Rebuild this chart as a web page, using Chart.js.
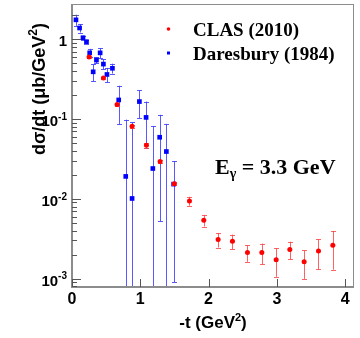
<!DOCTYPE html>
<html>
<head>
<meta charset="utf-8">
<script src="https://cdn.jsdelivr.net/npm/chart.js@4.4.1/dist/chart.umd.min.js"></script>
<style>
  html, body { margin: 0; padding: 0; background: #fff; }
  canvas { display: block; }
</style>
</head>
<body>
<canvas id="xsChart" width="360" height="338"></canvas>
<script>
// ====== Data ======
// CLAS (2010)
const CLAS_T    = [0.25, 0.46, 0.66, 0.88, 1.09, 1.29, 1.50, 1.72, 1.93, 2.14, 2.35, 2.57, 2.78, 2.99, 3.19, 3.40, 3.61, 3.82];
const CLAS_DSDT = [0.60, 0.327, 0.152, 0.0813, 0.047, 0.0294, 0.0155, 0.0094, 0.00539, 0.00309, 0.00294, 0.00212, 0.00212, 0.00172, 0.00232, 0.00162, 0.00221, 0.00262];
const CLAS_ERR  = [0.02, 0.012, 0.006, 0.004, 0.003, 0.0015, 0.0006, 0.0012, 0.0009, 0.00064, 0.00062, 0.0005, 0.00062, 0.00067, 0.00058, 0.00063, 0.00091, 0.00133];

// Daresbury (1984)
const DARES_T    = [0.058, 0.111, 0.161, 0.212, 0.259, 0.31, 0.358, 0.412, 0.46, 0.512, 0.592, 0.684, 0.787, 0.88, 0.987, 1.085, 1.184, 1.284, 1.382, 1.488];
const DARES_DSDT = [1.76, 1.39, 1.05, 0.936, 0.678, 0.392, 0.55, 0.678, 0.49, 0.363, 0.434, 0.174, 0.0191, 0.0101, 0.166, 0.105, 0.024, 0.0592, 0.0392, 0.0153];
const DARES_ERR  = [0.28, 0.17, 0.06, 0.05, 0.083, 0.094, 0.05, 0.097, 0.07, 0.075, 0.062, 0.088, 0.0795, 0.081, 0.064, 0.061, 0.057, 0.054, 0.048, 0.0144];

// Axis ticks
const X_TICKS = [0, 1, 2, 3, 4];
const Y_TICK_VALUES = [0.001, 0.01, 0.1, 1];
const Y_TICK_BASE = ["10", "10", "10", "1"];
const Y_TICK_EXP  = ["-3", "-2", "-1", ""];

const SANS = "'Liberation Sans', Arimo, Helvetica, Arial, sans-serif";
const SERIF = "'Liberation Serif', Tinos, 'Times New Roman', serif";

const toPoints = (xs, ys) => xs.map((t, i) => ({ x: t, y: ys[i] }));

// ====== Error bars ======
function drawErrors(chart, xs, ys, errs, color) {
  const { ctx, chartArea: a, scales: { x, y } } = chart;
  ctx.save();
  ctx.beginPath();
  ctx.rect(a.left, a.top, a.right - a.left, a.bottom - a.top);
  ctx.clip();
  ctx.strokeStyle = color;
  ctx.lineWidth = 1;
  xs.forEach((t, i) => {
    const px = Math.round(x.getPixelForValue(t)) + 0.5;
    const hi = ys[i] + errs[i];
    const lo = ys[i] - errs[i];
    const pHi = y.getPixelForValue(hi);
    const loIn = lo > y.min;
    const pLo = loIn ? y.getPixelForValue(lo) : a.bottom + 2;
    ctx.beginPath();
    ctx.moveTo(px, pHi);
    ctx.lineTo(px, pLo);
    ctx.moveTo(px - 2.5, Math.round(pHi) + 0.5);
    ctx.lineTo(px + 2.5, Math.round(pHi) + 0.5);
    if (loIn) {
      ctx.moveTo(px - 2.5, Math.round(pLo) + 0.5);
      ctx.lineTo(px + 2.5, Math.round(pLo) + 0.5);
    }
    ctx.stroke();
  });
  ctx.restore();
}

// draws pieces like [["10", false], ["-1", true]] starting at x
function drawRich(ctx, parts, x, base, size, supSize, family, weight) {
  let cx = x;
  parts.forEach(([txt, sup]) => {
    ctx.font = `${weight} ${sup ? supSize : size}px ${family}`;
    ctx.fillText(txt, cx, sup ? base - size * 0.42 : base);
    cx += ctx.measureText(txt).width;
  });
  return cx - x;
}
function richWidth(ctx, parts, size, supSize, family, weight) {
  let w = 0;
  parts.forEach(([txt, sup]) => {
    ctx.font = `${weight} ${sup ? supSize : size}px ${family}`;
    w += ctx.measureText(txt).width;
  });
  return w;
}

const framePlugin = {
  id: 'frame',
  beforeDatasetDraw(chart, args) {
    if (args.index === 0) drawErrors(chart, CLAS_T, CLAS_DSDT, CLAS_ERR, 'rgba(255,70,70,0.85)');
    if (args.index === 1) drawErrors(chart, DARES_T, DARES_DSDT, DARES_ERR, 'rgba(60,60,255,0.85)');
  },
  afterDraw(chart) {
    const { ctx, chartArea: a, scales: { x, y } } = chart;
    ctx.save();

    // frame
    ctx.strokeStyle = '#8c8c8c';
    ctx.lineWidth = 1;
    ctx.strokeRect(a.left + 0.5, a.top + 0.5, a.right - a.left - 1, a.bottom - a.top - 1);
    ctx.lineWidth = 2;
    ctx.beginPath();
    ctx.moveTo(a.left, a.top);
    ctx.lineTo(a.left, a.bottom);
    ctx.lineTo(a.right, a.bottom);
    ctx.stroke();

    // ticks
    ctx.strokeStyle = '#555';
    ctx.lineWidth = 1;
    ctx.beginPath();
    X_TICKS.forEach(t => {
      const px = Math.round(x.getPixelForValue(t)) + 0.5;
      ctx.moveTo(px, a.bottom);
      ctx.lineTo(px, a.bottom - 8);
    });
    for (let e = -4; e <= 0; e++) {
      for (let m = 1; m <= 9; m++) {
        const v = m * Math.pow(10, e);
        if (v < y.min || v > y.max) continue;
        const py = Math.round(y.getPixelForValue(v)) + 0.5;
        ctx.moveTo(a.left, py);
        ctx.lineTo(a.left + (m === 1 ? 9 : 5), py);
      }
    }
    ctx.stroke();

    ctx.fillStyle = '#000';
    ctx.textBaseline = 'alphabetic';

    // x tick labels
    ctx.font = `bold 16px ${SANS}`;
    ctx.textAlign = 'center';
    X_TICKS.forEach(t => ctx.fillText(String(t), x.getPixelForValue(t), 304));

    // y tick labels
    ctx.textAlign = 'left';
    Y_TICK_VALUES.forEach((v, i) => {
      const py = y.getPixelForValue(v);
      const parts = [[Y_TICK_BASE[i], false]];
      if (Y_TICK_EXP[i]) parts.push([Y_TICK_EXP[i], true]);
      const w = richWidth(ctx, parts, 15, 10, SANS, 'bold');
      drawRich(ctx, parts, 67 - w, py + 7, 15, 10, SANS, 'bold');
    });

    // x title
    const xt = [["-t (GeV", false], ["2", true], [")", false]];
    const xw = richWidth(ctx, xt, 17, 11, SANS, 'bold');
    drawRich(ctx, xt, 213 - xw / 2, 328, 17, 11, SANS, 'bold');

    // y title
    ctx.save();
    ctx.translate(45, 89);
    ctx.rotate(-Math.PI / 2);
    const yt = [["dσ/dt (μb/GeV", false], ["2", true], [")", false]];
    const yw = richWidth(ctx, yt, 18, 12, SANS, 'bold');
    drawRich(ctx, yt, -yw / 2, 0, 18, 12, SANS, 'bold');
    ctx.restore();

    // legend
    ctx.fillStyle = '#ff0000';
    ctx.beginPath();
    ctx.arc(168.5, 29, 1.8, 0, Math.PI * 2);
    ctx.fill();
    ctx.fillStyle = '#0000ff';
    ctx.fillRect(167, 51.5, 3, 3);
    ctx.fillStyle = '#000';
    ctx.font = `bold 19px ${SERIF}`;
    ctx.fillText('CLAS (2010)', 193, 36);
    ctx.fillText('Daresbury (1984)', 193, 60);

    // beam energy label
    let cx = 215;
    ctx.font = `bold 22px ${SERIF}`;
    ctx.fillText('E', cx, 174);
    cx += ctx.measureText('E').width;
    ctx.font = `bold 14px ${SERIF}`;
    ctx.fillText('γ', cx, 178);
    cx += ctx.measureText('γ').width;
    ctx.font = `bold 22px ${SERIF}`;
    ctx.fillText(' = 3.3 GeV', cx, 174);

    ctx.restore();
  }
};

// ====== Chart ======
const ctx = document.getElementById('xsChart').getContext('2d');
const chart = new Chart(ctx, {
  type: 'scatter',
  data: {
    datasets: [
      {
        label: 'CLAS (2010)',
        data: toPoints(CLAS_T, CLAS_DSDT),
        pointStyle: 'circle',
        pointRadius: 2.5,
        pointBorderWidth: 0,
        backgroundColor: '#ff0000',
        borderColor: '#ff0000'
      },
      {
        label: 'Daresbury (1984)',
        data: toPoints(DARES_T, DARES_DSDT),
        pointStyle: 'rect',
        pointRadius: 3.3,
        pointBorderWidth: 0,
        backgroundColor: '#0000ff',
        borderColor: '#0000ff'
      }
    ]
  },
  options: {
    responsive: false,
    animation: false,
    layout: { padding: { left: 72, right: 6, top: 3, bottom: 51 } },
    plugins: { legend: { display: false }, tooltip: { enabled: false } },
    scales: {
      x: { type: 'linear', min: 0, max: 4.13, display: false },
      y: { type: 'logarithmic', min: 7.83e-4, max: 2.78, display: false }
    }
  },
  plugins: [framePlugin]
});
</script>
</body>
</html>
